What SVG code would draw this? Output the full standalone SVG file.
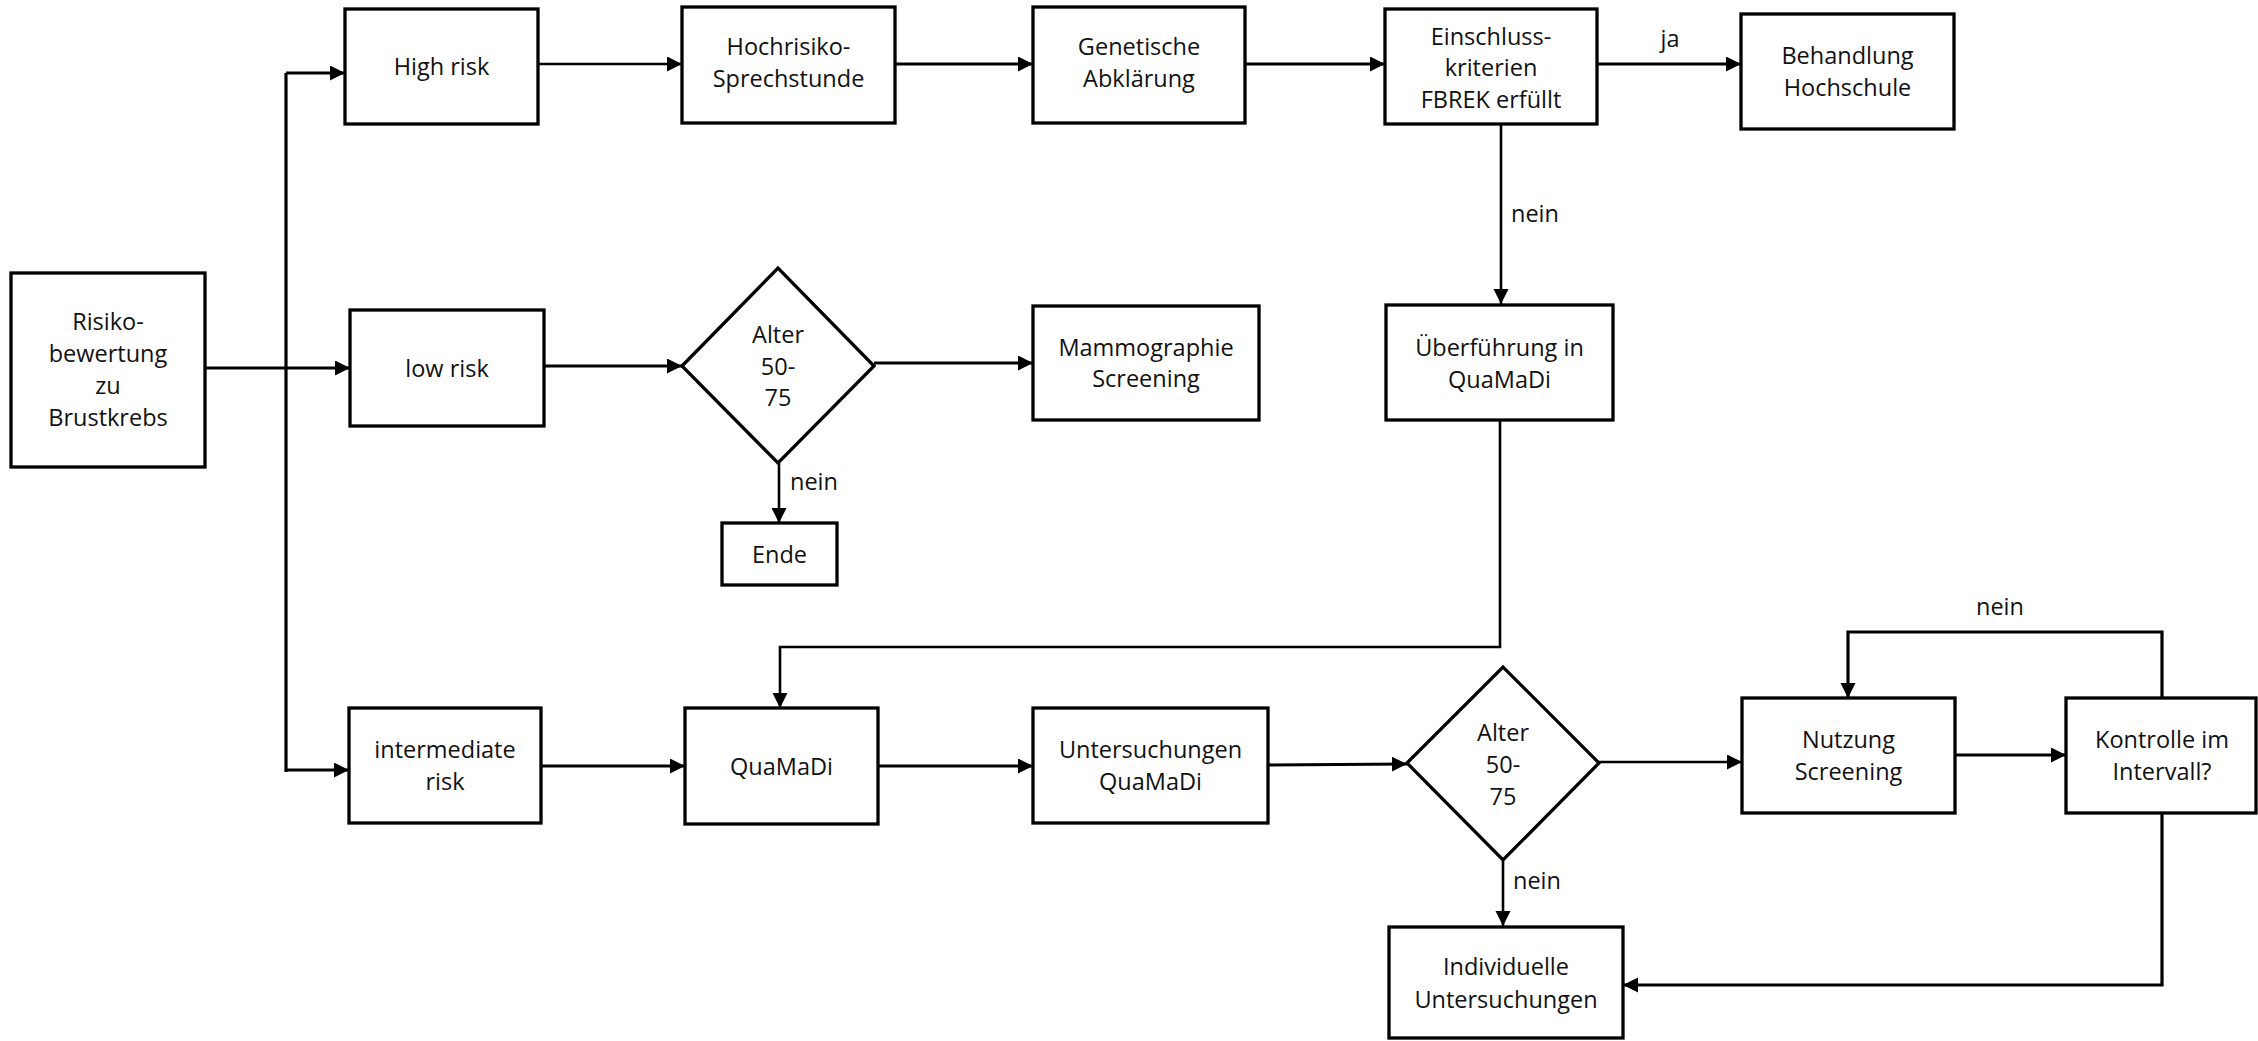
<svg xmlns="http://www.w3.org/2000/svg" width="2258" height="1041" viewBox="0 0 2258 1041">
<style>
.box{fill:#fff;stroke:#000;stroke-width:3.3}
.t{font-family:"Open Sans","Noto Sans","Liberation Sans",sans-serif;font-size:23.5px;fill:#111;text-anchor:middle}
.l{font-family:"Open Sans","Noto Sans","Liberation Sans",sans-serif;font-size:23.5px;fill:#111}
.c{fill:none;stroke:#000;stroke-width:3.2}
.thin{stroke-width:2.6}
</style>
<defs>
<marker id="ah" markerUnits="userSpaceOnUse" markerWidth="16" markerHeight="16" refX="15" refY="7.5" orient="auto">
<path d="M0,0 L15,7.5 L0,15 z" fill="#000"/>
</marker>
</defs>
<rect width="2258" height="1041" fill="#fff"/>
<g id="connectors">
<path class="c" d="M286,73 V772"/>
<path class="c" d="M286,73 H345" marker-end="url(#ah)"/>
<path class="c" d="M286,770 H349" marker-end="url(#ah)"/>
<path class="c" d="M205,368 H350" marker-end="url(#ah)"/>
<path class="c thin" d="M538,64 H682" marker-end="url(#ah)"/>
<path class="c" d="M895,64 H1033" marker-end="url(#ah)"/>
<path class="c" d="M1245,64 H1385" marker-end="url(#ah)"/>
<path class="c" d="M1597,64 H1741" marker-end="url(#ah)"/>
<path class="c thin" d="M1501,124 V304" marker-end="url(#ah)"/>
<path class="c" d="M544,366 H682" marker-end="url(#ah)"/>
<path class="c" d="M874,363 H1033" marker-end="url(#ah)"/>
<path class="c thin" d="M779,463 V523" marker-end="url(#ah)"/>
<path class="c thin" d="M1500,420 V647 H780 V708" marker-end="url(#ah)"/>
<path class="c" d="M541,766 H685" marker-end="url(#ah)"/>
<path class="c" d="M878,766 H1033" marker-end="url(#ah)"/>
<path class="c" d="M1268,765 L1407,764" marker-end="url(#ah)"/>
<path class="c thin" d="M1599,762 H1742" marker-end="url(#ah)"/>
<path class="c" d="M1955,755 H2066" marker-end="url(#ah)"/>
<path class="c" d="M2162,698 V632 H1848 V698" marker-end="url(#ah)"/>
<path class="c thin" d="M1503,860 V926" marker-end="url(#ah)"/>
<path class="c" d="M2162,813 V985 H1623" marker-end="url(#ah)"/>
<text class="l" x="1670" y="47" text-anchor="middle">ja</text>
<text class="l" x="1511" y="222">nein</text>
<text class="l" x="790" y="490">nein</text>
<text class="l" x="2000" y="615" text-anchor="middle">nein</text>
<text class="l" x="1513" y="889">nein</text>
</g>
<g id="risiko"><rect class="box" x="11" y="273" width="194" height="194"/>
<text class="t" x="108" y="330">Risiko-</text><text class="t" x="108" y="362">bewertung</text><text class="t" x="108" y="394">zu</text><text class="t" x="108" y="426">Brustkrebs</text></g>
<g id="highrisk"><rect class="box" x="345" y="9" width="193" height="115"/>
<text class="t" x="441.5" y="75">High risk</text></g>
<g id="hochrisiko"><rect class="box" x="682" y="7" width="213" height="116"/>
<text class="t" x="788.5" y="55">Hochrisiko-</text><text class="t" x="788.5" y="87">Sprechstunde</text></g>
<g id="genetische"><rect class="box" x="1033" y="7" width="212" height="116"/>
<text class="t" x="1139" y="55">Genetische</text><text class="t" x="1139" y="87">Abklärung</text></g>
<g id="einschluss"><rect class="box" x="1385" y="9" width="212" height="115"/>
<text class="t" x="1491" y="45">Einschluss-</text><text class="t" x="1491" y="76">kriterien</text><text class="t" x="1491" y="108">FBREK erfüllt</text></g>
<g id="behandlung"><rect class="box" x="1741" y="14" width="213" height="115"/>
<text class="t" x="1847.5" y="64">Behandlung</text><text class="t" x="1847.5" y="96">Hochschule</text></g>
<g id="lowrisk"><rect class="box" x="350" y="310" width="194" height="116"/>
<text class="t" x="447" y="377">low risk</text></g>
<g id="alter1"><path class="box" d="M682,366 L778,268 L874,366 L778,463 z"/>
<text class="t" x="778" y="343">Alter</text><text class="t" x="778" y="375">50-</text><text class="t" x="778" y="406">75</text></g>
<g id="mammographie"><rect class="box" x="1033" y="306" width="226" height="114"/>
<text class="t" x="1146" y="356">Mammographie</text><text class="t" x="1146" y="387">Screening</text></g>
<g id="ende"><rect class="box" x="722" y="523" width="115" height="62"/>
<text class="t" x="779.5" y="563">Ende</text></g>
<g id="ueberfuehrung"><rect class="box" x="1386" y="305" width="227" height="115"/>
<text class="t" x="1499.5" y="356">Überführung in</text><text class="t" x="1499.5" y="388">QuaMaDi</text></g>
<g id="intermediate"><rect class="box" x="349" y="708" width="192" height="115"/>
<text class="t" x="445" y="758">intermediate</text><text class="t" x="445" y="790">risk</text></g>
<g id="quamadi"><rect class="box" x="685" y="708" width="193" height="116"/>
<text class="t" x="781.5" y="775">QuaMaDi</text></g>
<g id="untersuchungen"><rect class="box" x="1033" y="708" width="235" height="115"/>
<text class="t" x="1150.5" y="758">Untersuchungen</text><text class="t" x="1150.5" y="790">QuaMaDi</text></g>
<g id="alter2"><path class="box" d="M1407,763 L1503,667 L1599,763 L1503,860 z"/>
<text class="t" x="1503" y="741">Alter</text><text class="t" x="1503" y="773">50-</text><text class="t" x="1503" y="805">75</text></g>
<g id="nutzung"><rect class="box" x="1742" y="698" width="213" height="115"/>
<text class="t" x="1848.5" y="748">Nutzung</text><text class="t" x="1848.5" y="780">Screening</text></g>
<g id="kontrolle"><rect class="box" x="2066" y="698" width="190" height="115"/>
<text class="t" x="2162" y="748">Kontrolle im</text><text class="t" x="2162" y="780">Intervall?</text></g>
<g id="individuelle"><rect class="box" x="1389" y="927" width="234" height="111"/>
<text class="t" x="1506" y="975">Individuelle</text><text class="t" x="1506" y="1008">Untersuchungen</text></g>
</svg>
